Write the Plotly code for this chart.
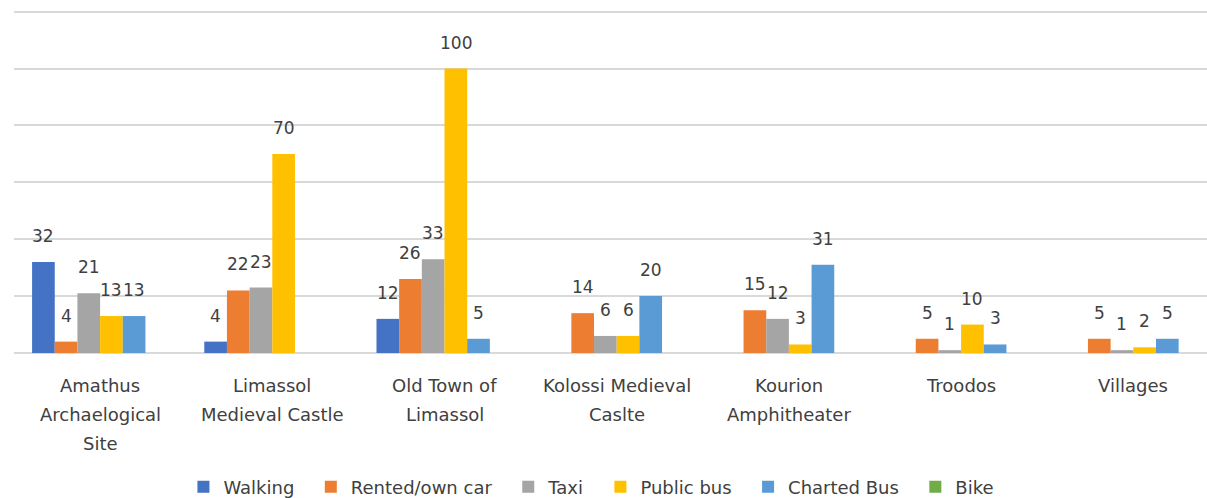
import plotly.graph_objects as go

# Sites visited (x categories) and how visitors travelled there
sites = [
    "Amathus\nArchaelogical\nSite",
    "Limassol\nMedieval Castle",
    "Old Town of\nLimassol",
    "Kolossi Medieval\nCaslte",
    "Kourion\nAmphitheater",
    "Troodos",
    "Villages",
]

walking = [32, 4, 12, None, None, None, None]
rented_own_car = [4, 22, 26, 14, 15, 5, 5]
taxi = [21, 23, 33, 6, 12, 1, 1]
public_bus = [13, 70, 100, 6, 3, 10, 2]
charted_bus = [13, None, 5, 20, 31, 3, 5]
bike = [None, None, None, None, None, None, None]

series = [
    ("Walking", walking, "#4472C4"),
    ("Rented/own car", rented_own_car, "#ED7D31"),
    ("Taxi", taxi, "#A5A5A5"),
    ("Public bus", public_bus, "#FFC000"),
    ("Charted Bus", charted_bus, "#5B9BD5"),
    ("Bike", bike, "#70AD47"),
]

FONT = "DejaVu Sans"
TEXT_COLOR = "#404040"
BARGAP = 0.21
NBSP = "\u00a0"

positions = list(range(len(sites)))
n_series = len(series)
slot = (1 - BARGAP) / n_series  # width of one bar in category units

fig = go.Figure()
annotations = []
for k, (name, values, color) in enumerate(series):
    label = name if k == n_series - 1 else name + NBSP * 2
    fig.add_trace(
        go.Bar(
            name=label,
            x=positions,
            y=values,
            marker=dict(color=color, line=dict(width=0)),
            hoverinfo="x+y+name",
        )
    )
    # value labels above each bar
    for i, v in zip(positions, values):
        if v is None:
            continue
        annotations.append(
            dict(
                x=i + (k - (n_series - 1) / 2) * slot,
                y=v,
                xref="x",
                yref="y",
                text=str(v),
                showarrow=False,
                xanchor="center",
                yanchor="bottom",
                yshift=14,
                font=dict(family=FONT, size=17, color=TEXT_COLOR),
            )
        )

# category labels under the axis, one line at a time
LINE_STEP = 29
for i, site in zip(positions, sites):
    for j, line in enumerate(site.split("\n")):
        annotations.append(
            dict(
                x=i,
                y=0,
                xref="x",
                yref="y",
                text=line,
                showarrow=False,
                xanchor="center",
                yanchor="top",
                yshift=-20 - j * LINE_STEP,
                font=dict(family=FONT, size=18, color=TEXT_COLOR),
            )
        )

fig.update_layout(
    width=1207,
    height=498,
    margin=dict(l=14, r=0, t=10, b=145),
    paper_bgcolor="white",
    plot_bgcolor="white",
    barmode="group",
    bargap=BARGAP,
    bargroupgap=0,
    font=dict(family=FONT, size=17, color=TEXT_COLOR),
    showlegend=True,
    legend=dict(
        orientation="h",
        xref="container",
        yref="container",
        x=0.49,
        xanchor="center",
        y=0.022,
        yanchor="middle",
        font=dict(family=FONT, size=18, color=TEXT_COLOR),
        traceorder="normal",
    ),
    xaxis=dict(
        range=[-0.5, 6.428],
        showticklabels=False,
        showgrid=False,
        showline=False,
        zeroline=False,
        ticks="",
    ),
    yaxis=dict(
        range=[0, 120.6],
        dtick=20,
        showticklabels=False,
        showgrid=True,
        gridcolor="#D9D9D9",
        gridwidth=1.5,
        zeroline=True,
        zerolinecolor="#D9D9D9",
        zerolinewidth=1.5,
        showline=False,
    ),
    annotations=annotations,
)

fig.write_html("out.html")
